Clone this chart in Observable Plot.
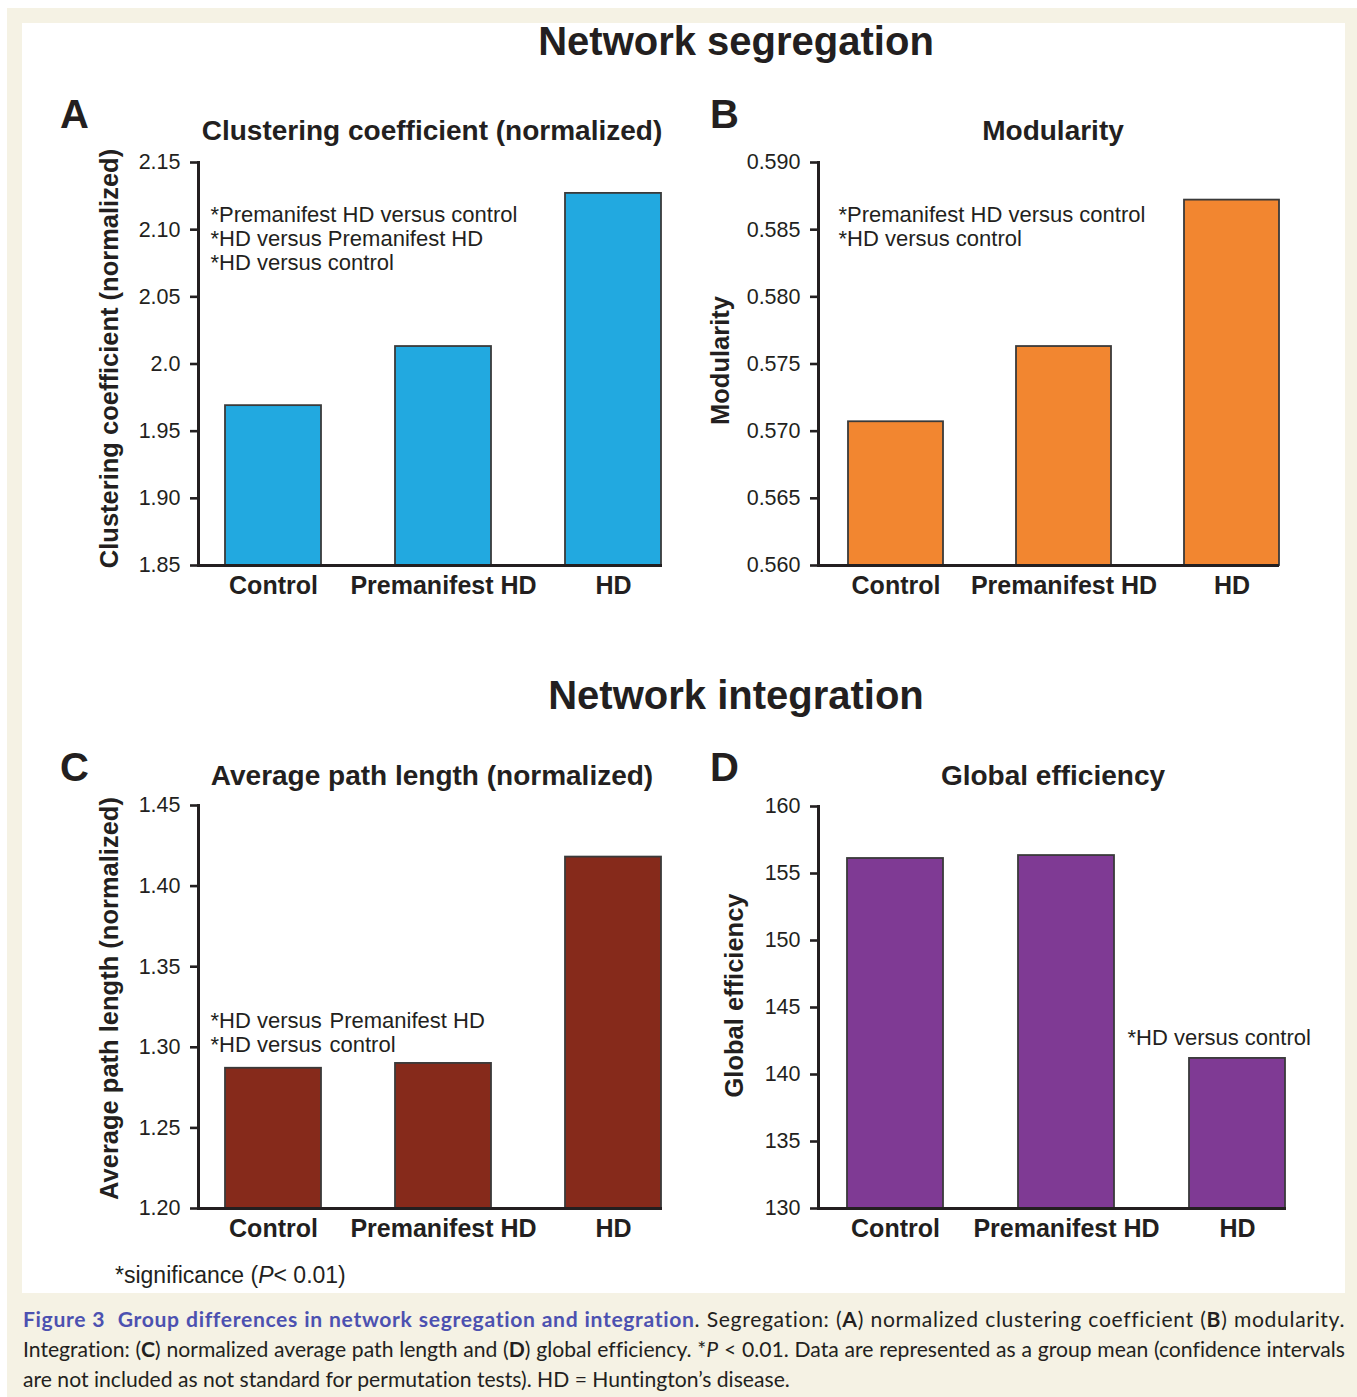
<!DOCTYPE html>
<html>
<head>
<meta charset="utf-8">
<script src="https://cdn.jsdelivr.net/npm/d3@7"></script>
<script src="https://cdn.jsdelivr.net/npm/@observablehq/plot@0.6"></script>
<style>
  body { margin: 0; background: #fff; }
  #page { position: relative; width: 1357px; height: 1397px; overflow: hidden;
          font-family: "Liberation Sans", Arial, Helvetica, sans-serif; color: #231f20; }
  #beige { position: absolute; left: 7px; top: 8px; width: 1350px; height: 1389px; background: #f5f2e4; }
  #white { position: absolute; left: 22px; top: 23px; width: 1323px; height: 1270px; background: #fff; }
  .t { position: absolute; white-space: nowrap; line-height: 1; }
  .panel { position: absolute; }
  .cap { position: absolute; left: 23px; width: 1322px; font-family: Lato, "Open Sans", sans-serif;
         color: #231f20; line-height: 1; white-space: nowrap; }
  .cap.j { text-align: justify; text-align-last: justify; white-space: normal; }
  .cap b.blue { color: #4c51b0; }
</style>
</head>
<body>
<div id="page">
  <div id="beige"></div>
  <div id="white"></div>
</div>
<script>
// ---------------- data ----------------
const groups = ["Control", "Premanifest HD", "HD"];

const clusteringValues = [1.969, 2.013, 2.127];
const clusteringTicks = [1.85, 1.90, 1.95, 2.0, 2.05, 2.10, 2.15];
const clusteringTickLabels = ["1.85", "1.90", "1.95", "2.0", "2.05", "2.10", "2.15"];

const modularityValues = [0.5707, 0.5763, 0.5872];
const modularityTicks = [0.560, 0.565, 0.570, 0.575, 0.580, 0.585, 0.590];
const modularityTickLabels = ["0.560", "0.565", "0.570", "0.575", "0.580", "0.585", "0.590"];

const pathLengthValues = [1.287, 1.290, 1.418];
const pathLengthTicks = [1.20, 1.25, 1.30, 1.35, 1.40, 1.45];
const pathLengthTickLabels = ["1.20", "1.25", "1.30", "1.35", "1.40", "1.45"];

const efficiencyValues = [156.12, 156.34, 141.2];
const efficiencyTicks = [130, 135, 140, 145, 150, 155, 160];
const efficiencyTickLabels = ["130", "135", "140", "145", "150", "155", "160"];

const notesA = ["*Premanifest HD versus control", "*HD versus Premanifest HD", "*HD versus control"];
const notesB = ["*Premanifest HD versus control", "*HD versus control"];
const notesC1 = ["*HD versus", "*HD versus"];
const notesC2 = ["Premanifest HD", "control"];
const notesD = ["*HD versus control"];

// ---------------- helpers ----------------
const page = document.getElementById("page");
const FONT = "Liberation Sans, Arial, Helvetica, sans-serif";
const INK = "#231f20";

function addText(html, {x, baseline, size, weight = "normal", anchor = "start"}) {
  const d = document.createElement("div");
  d.className = "t";
  d.innerHTML = html;
  d.style.fontSize = size + "px";
  d.style.fontWeight = weight;
  d.style.left = x + "px";
  d.style.top = (baseline - 0.8465 * size) + "px";
  if (anchor === "middle") d.style.transform = "translateX(-50%)";
  page.appendChild(d);
}

function panel(spec) {
  const {box, frame, bars, domain, ticks, tickLabels, values, color, ylabel, ylabelBase, ylabelMid, notes} = spec;
  const ml = frame[0] - box.left, mr = box.left + box.width - frame[1];
  const mt = frame[2] - box.top, mb = box.top + box.height - frame[3];
  const data = groups.map((g, i) => ({group: g, value: values[i]}));
  const frameMid = (frame[2] + frame[3]) / 2;
  const noteMarks = notes.map(n => Plot.text([n.lines.join("\n")], {
    frameAnchor: "top-left", dx: n.x - frame[0], dy: n.capTop - frame[2],
    lineAnchor: "top", textAnchor: "start", fontSize: 22, lineHeight: 24 / 22, fill: INK
  }));
  const chart = Plot.plot({
    width: box.width, height: box.height,
    marginLeft: ml, marginRight: mr, marginTop: mt, marginBottom: mb,
    style: {fontFamily: FONT, background: "transparent", color: INK, overflow: "visible"},
    x: {domain: groups, range: [bars[0] - box.left, bars[1] - box.left], paddingInner: 0.437, paddingOuter: 0, align: 0.5, label: null},
    y: {domain, label: null},
    marks: [
      Plot.barY(data, {x: "group", y1: domain[0], y2: "value", fill: color, stroke: "#3a3a3a", strokeWidth: 1.8}),
      Plot.axisY({ticks, tickFormat: d => tickLabels[ticks.indexOf(d)], tickSize: 8, tickPadding: 10,
                  fontSize: 21.5, strokeWidth: 2.6, stroke: INK, fill: INK, label: null}),
      Plot.axisX({tickSize: 0, tickPadding: 11, fontSize: 25, fontWeight: "bold", fill: INK, label: null}),
      Plot.frame({anchor: "left", stroke: INK, strokeWidth: 3}),
      Plot.ruleY([domain[0]], {stroke: INK, strokeWidth: 3}),
      Plot.text([ylabel], {frameAnchor: "left", rotate: -90, lineAnchor: "bottom", textAnchor: "middle",
                           dx: ylabelBase - frame[0], dy: ylabelMid - frameMid,
                           fontSize: 25.5, fontWeight: "bold", fill: INK}),
      ...noteMarks
    ]
  });
  chart.classList.add("panel");
  chart.style.left = box.left + "px";
  chart.style.top = box.top + "px";
  page.appendChild(chart);
}

// ---------------- headings ----------------
addText("Network segregation", {x: 736, baseline: 55, size: 40, weight: "bold", anchor: "middle"});
addText("Network integration", {x: 736, baseline: 709, size: 40, weight: "bold", anchor: "middle"});
addText("A", {x: 60, baseline: 128, size: 40, weight: "bold"});
addText("B", {x: 710, baseline: 128, size: 40, weight: "bold"});
addText("C", {x: 60, baseline: 781, size: 40, weight: "bold"});
addText("D", {x: 710, baseline: 781, size: 40, weight: "bold"});
addText("Clustering coefficient (normalized)", {x: 432, baseline: 141, size: 28, weight: "bold", anchor: "middle"});
addText("Modularity", {x: 1053, baseline: 141, size: 28, weight: "bold", anchor: "middle"});
addText("Average path length (normalized)", {x: 432, baseline: 786, size: 28, weight: "bold", anchor: "middle"});
addText("Global efficiency", {x: 1053, baseline: 786, size: 28, weight: "bold", anchor: "middle"});

// ---------------- panels ----------------
panel({
  box: {left: 22, top: 145, width: 668, height: 495},
  frame: [198, 662, 162, 565], bars: [225, 661],
  domain: [1.85, 2.15], ticks: clusteringTicks, tickLabels: clusteringTickLabels,
  values: clusteringValues, color: "#22a9e0",
  ylabel: "Clustering coefficient (normalized)", ylabelBase: 117, ylabelMid: 358,
  notes: [{lines: notesA, x: 210, capTop: 204.5}]
});
panel({
  box: {left: 690, top: 145, width: 655, height: 495},
  frame: [818, 1279, 162, 565], bars: [847, 1279],
  domain: [0.560, 0.590], ticks: modularityTicks, tickLabels: modularityTickLabels,
  values: modularityValues, color: "#f28630",
  ylabel: "Modularity", ylabelBase: 728, ylabelMid: 360,
  notes: [{lines: notesB, x: 838, capTop: 204.5}]
});
panel({
  box: {left: 22, top: 790, width: 668, height: 495},
  frame: [198, 662, 805, 1208], bars: [225, 661],
  domain: [1.20, 1.45], ticks: pathLengthTicks, tickLabels: pathLengthTickLabels,
  values: pathLengthValues, color: "#862a1b",
  ylabel: "Average path length (normalized)", ylabelBase: 117, ylabelMid: 998,
  notes: [{lines: notesC1, x: 210, capTop: 1010.5}, {lines: notesC2, x: 329, capTop: 1010.5}]
});
panel({
  box: {left: 690, top: 790, width: 655, height: 495},
  frame: [818, 1286, 806, 1208], bars: [847, 1286],
  domain: [130, 160], ticks: efficiencyTicks, tickLabels: efficiencyTickLabels,
  values: efficiencyValues, color: "#7f3a94",
  ylabel: "Global efficiency", ylabelBase: 742, ylabelMid: 995,
  notes: [{lines: notesD, x: 1127, capTop: 1027.5}]
});

// ---------------- footnote & caption ----------------
addText("*significance (<i>P</i>&lt; 0.01)", {x: 115, baseline: 1283, size: 23});

const captionLines = [
  '<b class="blue">Figure 3&nbsp;&nbsp;Group differences in network segregation and integration</b>. Segregation: (<b>A</b>) normalized clustering coefficient (<b>B</b>) modularity.',
  'Integration: (<b>C</b>) normalized average path length and (<b>D</b>) global efficiency. *<i>P</i> &lt; 0.01. Data are represented as a group mean (confidence intervals',
  'are not included as not standard for permutation tests). HD = Huntington\u2019s disease.'
];
const capBaselines = [1328, 1358, 1388];
const TARGET = 1314;
function measure(html, size, ls) {
  const probe = document.createElement("span");
  probe.style.cssText = "position:absolute;visibility:hidden;white-space:nowrap;font-family:Lato,'Open Sans',sans-serif;";
  probe.style.fontSize = size + "px";
  probe.style.letterSpacing = ls + "px";
  probe.innerHTML = html;
  page.appendChild(probe);
  const w = probe.getBoundingClientRect().width;
  page.removeChild(probe);
  return w;
}
let maxW = Math.max(measure(captionLines[0], 20, 0), measure(captionLines[1], 20, 0));
const capSize = Math.min(23, 20 * TARGET / maxW);
const spacings = captionLines.map((html, i) => {
  if (i > 1) return 0;
  const w = measure(html, capSize, 0);
  const n = html.replace(/<[^>]+>/g, "").replace(/&[a-z]+;/g, "x").length;
  return Math.max(0, (TARGET - w) / n);
});
spacings[2] = Math.min(spacings[0], spacings[1]);
captionLines.forEach((html, i) => {
  const d = document.createElement("div");
  d.className = "cap" + (i < 2 ? " j" : "");
  d.innerHTML = html;
  d.style.fontSize = capSize + "px";
  d.style.letterSpacing = spacings[i] + "px";
  d.style.top = (capBaselines[i] - 0.887 * capSize) + "px";
  page.appendChild(d);
});
</script>
</body>
</html>
